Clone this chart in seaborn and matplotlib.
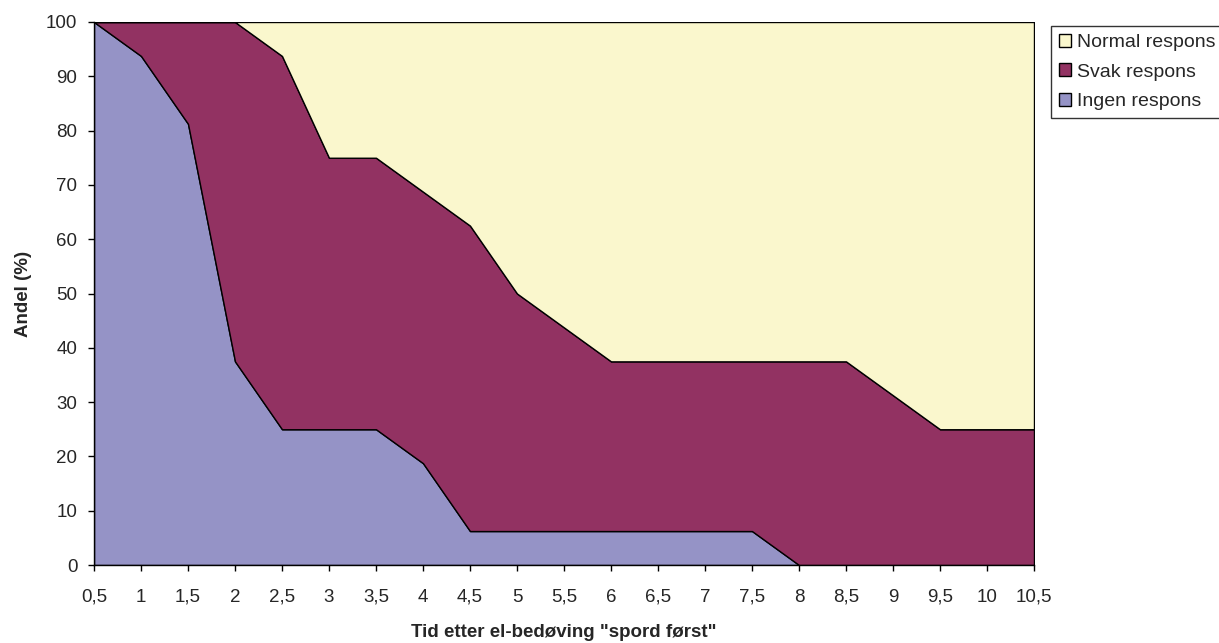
import matplotlib
matplotlib.use("Agg")
import matplotlib.pyplot as plt
import numpy as np
import pandas as pd
import seaborn as sns

# %%
tid = ["0,5", "1", "1,5", "2", "2,5", "3", "3,5", "4", "4,5", "5", "5,5",
       "6", "6,5", "7", "7,5", "8", "8,5", "9", "9,5", "10", "10,5"]
ingen = [100, 93.75, 81.25, 37.5, 25, 25, 25, 18.75, 6.25, 6.25, 6.25,
         6.25, 6.25, 6.25, 6.25, 0, 0, 0, 0, 0, 0]
svak = [0, 6.25, 18.75, 62.5, 68.75, 50, 50, 50, 56.25, 43.75, 37.5,
        31.25, 31.25, 31.25, 31.25, 37.5, 37.5, 31.25, 25, 25, 25]
normal = [0, 0, 0, 0, 6.25, 25, 25, 31.25, 37.5, 50, 56.25,
          62.5, 62.5, 62.5, 62.5, 62.5, 62.5, 68.75, 75, 75, 75]
serier = ["Ingen respons", "Svak respons", "Normal respons"]
farger = ["#9593c6", "#923262", "#faf7cd"]

df = pd.DataFrame({"tid": tid, serier[0]: ingen, serier[1]: svak, serier[2]: normal})

# %%
sns.set_style("ticks")
plt.rcParams["font.family"] = ["Liberation Sans", "DejaVu Sans"]

W, H = 1219, 643
fig = plt.figure(figsize=(W / 100, H / 100), dpi=100)
ax = fig.add_axes([94 / W, 1 - 565 / H, (1034 - 94) / W, (565 - 22) / H])

x = np.arange(len(df))
ax.stackplot(x, df[serier[0]], df[serier[1]], df[serier[2]],
             colors=farger, labels=serier, edgecolor="black", linewidth=1)

ax.set_xlim(0, len(df) - 1)
ax.set_ylim(0, 100)
ax.set_xticks(x)
ax.set_xticklabels(df["tid"])
ax.set_yticks(range(0, 101, 10))
ax.tick_params(axis="both", labelsize=13.5, length=4, width=1, color="black", direction="out")
ax.tick_params(axis="x", pad=13)
ax.tick_params(axis="y", pad=8)
for side in ["top", "right"]:
    ax.spines[side].set_visible(False)
for side in ["left", "bottom"]:
    ax.spines[side].set_color("black")
    ax.spines[side].set_linewidth(1)

ax.set_xlabel('Tid etter el-bedøving "spord først"', fontsize=13.5, fontweight="bold")
ax.set_ylabel("Andel (%)", fontsize=13.5, fontweight="bold")
ax.xaxis.set_label_coords(0.5, (565 - 624) / 543)
ax.yaxis.set_label_coords((32 - 94) / 940, 0.5)

handles, labels = ax.get_legend_handles_labels()
leg = fig.legend(handles[::-1], labels[::-1], loc="upper left",
                 bbox_to_anchor=(1051 / W, 1 - 26 / H), fontsize=14,
                 frameon=True, fancybox=False, edgecolor="black", borderpad=0.4,
                 handlelength=0.65, handleheight=0.65, handletextpad=0.3,
                 labelspacing=0.63, borderaxespad=0)
leg.get_frame().set_linewidth(1)

fig.savefig("out.png", dpi=100)
